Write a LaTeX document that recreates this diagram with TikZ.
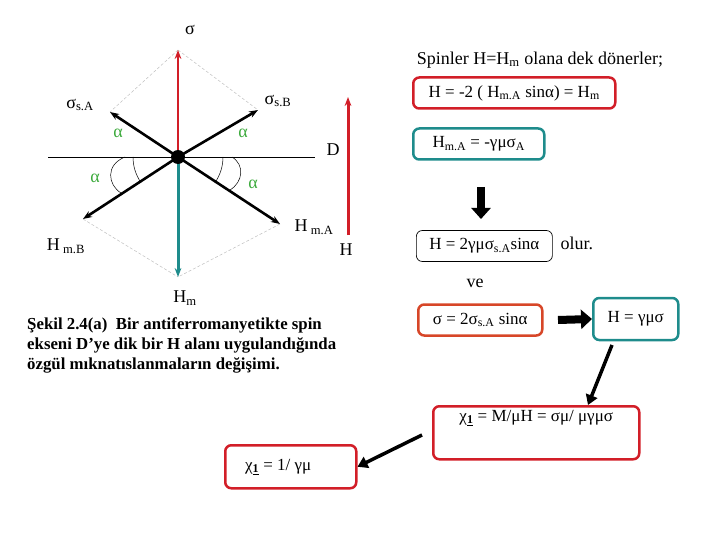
\documentclass[tikz,border=0pt]{standalone}
\usepackage{fontspec}
\setmainfont{Liberation Serif}
\usetikzlibrary{arrows.meta}
\definecolor{tred}{RGB}{210,30,40}
\definecolor{tteal}{RGB}{30,140,140}
\definecolor{torange}{RGB}{215,70,40}
\definecolor{tgreen}{RGB}{60,170,60}
\newcommand{\fs}{\fontsize{17}{20}\selectfont}
\newcommand{\fl}{\fontsize{18}{22}\selectfont}
\newcommand{\fc}{\bfseries\fontsize{16.8}{20}\selectfont}
\begin{document}
\begin{tikzpicture}[x=1pt,y=-1pt,
  vec/.style={line width=2.6pt,-{Stealth[length=9pt]}},
  dline/.style={gray!50,densely dashed,line width=0.5pt},
  al/.style={text=tgreen,font=\fl},
  lbl/.style={font=\fl},
  box/.style={rounded corners=6pt,line width=2.5pt,anchor=west,minimum height=31pt,inner xsep=10pt,font=\fs},
  fat/.style={line width=8pt,-{Triangle[length=11pt,width=19pt]}},
  tarr/.style={line width=3.5pt,-{Triangle[length=10pt,width=12pt]}}]
\useasboundingbox (0,0) rectangle (720,540);
\coordinate (O) at (178,157);
\coordinate (S) at (178,50);
\coordinate (SA) at (110,112);
\coordinate (SB) at (258,110);
\coordinate (HB) at (83,219);
\coordinate (HA) at (280,224);
\coordinate (HM) at (178,277);
\draw[dline] (S)--(SA) (S)--(SB) (HB)--(HM) (HA)--(HM);
\draw[line width=0.7pt] (48,157)--(315,157);
\draw[vec,tred] (O)--(S);
\draw[vec] (O)--(SA);
\draw[vec] (O)--(SB);
\draw[vec] (O)--(HB);
\draw[vec] (O)--(HA);
\draw[vec,tteal,line width=3pt] (O)--(HM);
\fill (O) circle (7pt);
\draw[line width=0.5pt] (133,157) arc (180:145:45) ;
\draw[line width=0.5pt] (223,157) arc (0:35:45);
\draw[line width=0.5pt] (125,157) .. controls (105,165) and (108,185) .. (121,193);
\draw[line width=0.5pt] (232,157) .. controls (245,165) and (243,182) .. (230,190);
\node[al] (a1) at (118,133) {α};
\node[al] (a2) at (243,133) {α};
\node[al] (a3) at (95,178) {α};
\node[al] (a4) at (253,184) {α};
\node[lbl] (ls) at (190,30) {σ};
\node[lbl] (lsa) at (80,105) {σ\textsubscript{s.A}};
\node[lbl] (lsb) at (278,101) {σ\textsubscript{s.B}};
\node[lbl] (ld) at (333,150) {D};
\node[lbl] (lha) at (314,227) {H\textsubscript{ m.A}};
\node[lbl] (lhb) at (66,246) {H\textsubscript{ m.B}};
\node[lbl] (lhm) at (185,298) {H\textsubscript{m}};
\coordinate (H0) at (348,235);
\coordinate (H1) at (348,97);
\draw[vec,tred,line width=3pt] (H0)--(H1);
\node[lbl] (lh) at (346,250) {H};
\node[font=\fc,align=left,anchor=north west,inner sep=0pt] (cap) at (27,317) {Şekil 2.4(a)\ \ Bir antiferromanyetikte spin\\ekseni D’ye dik bir H alanı uygulandığında\\özgül mıknatıslanmaların değişimi.};
\node[font=\fl] (sp) at (540,60) {Spinler H=H\textsubscript{m} olana dek dönerler;};
\node[box,draw=tred,minimum width=202pt] (b1) at (412,93) {H = -2 ( H\textsubscript{m.A} sinα) = H\textsubscript{m}};
\node[box,draw=tteal,minimum width=131pt] (b2) at (412,144) {H\textsubscript{m.A} = -γμσ\textsubscript{A}};
\coordinate (d0) at (481,187);
\coordinate (d1) at (481,219);
\draw[fat] (d0)--(d1);
\node[box,draw=black,line width=0.7pt,minimum width=136pt,inner xsep=5pt] (b3) at (416,246) {H = 2γμσ\textsubscript{s.A}sinα};
\node[font=\fl,anchor=west] (ol) at (557,243) {olur.};
\node[font=\fl] (ve) at (475,283) {ve};
\node[box,draw=torange,minimum width=124pt,inner xsep=6pt] (b4) at (417,320) {σ = 2σ\textsubscript{s.A} sinα};
\node[box,draw=tteal,minimum width=85pt,minimum height=42pt] (b5) at (592,319) {H = γμσ};
\draw[fat] (558,320)--(b5.west);
\node[box,draw=tred,minimum width=206pt,minimum height=53pt,anchor=north west,align=center] (b6) at (432,405) {χ\textsubscript{\textbf{\underline{1}}} = M/μH = σμ/ μγμσ\\[14pt]};
\draw[tarr] (612,345)--(588,405);
\node[box,draw=tred,minimum width=131pt,minimum height=43pt,anchor=north west,align=center] (b7) at (224,444) {χ\textsubscript{\textbf{\underline{1}}} = 1/ γμ\hspace{25pt}};
\draw[tarr] (422,435)--(b7.east);
\end{tikzpicture}
\end{document}
